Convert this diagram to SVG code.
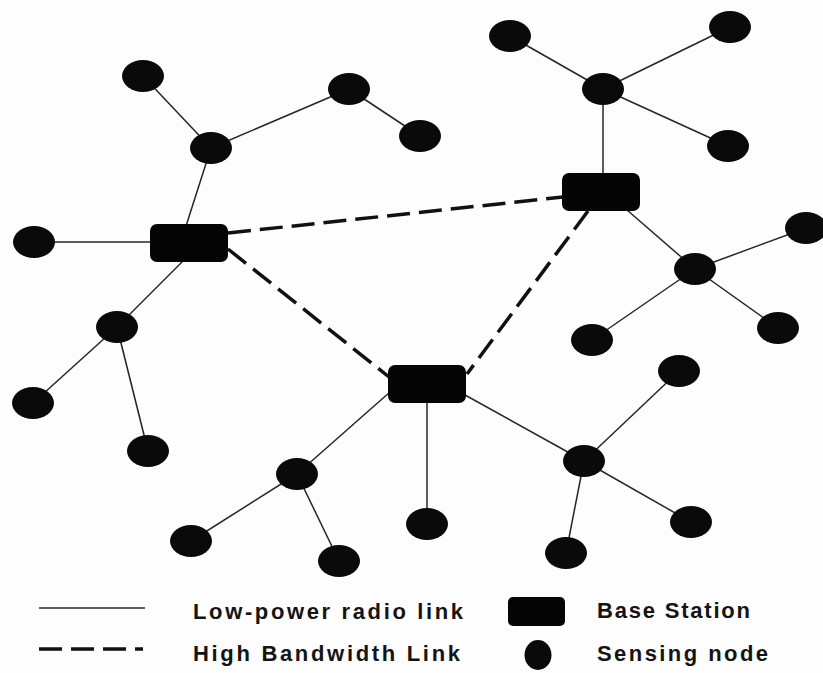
<svg xmlns="http://www.w3.org/2000/svg" width="823" height="673" viewBox="0 0 823 673">
  <style>
    .radio { stroke: #262626; stroke-width: 1.5; fill: none; }
    .backbone { stroke: #111; stroke-width: 3.5; fill: none; stroke-dasharray: 23 9; }
    .sensor { fill: #0a0a0a; }
    .base { fill: #050505; }
    .label { font-family: "Liberation Sans", Arial, sans-serif; font-weight: bold; font-size: 22px; fill: #141414; }
  </style>
  <defs>
    <ellipse id="sn" rx="21" ry="16"/>
    <rect id="bs" x="-39" y="-19" width="78" height="38" rx="7"/>
  </defs>
  <rect width="823" height="673" fill="#fdfdfd"/>

  <!-- links -->
  <g id="connectors">
    <!-- base station 1 tree -->
    <line class="radio" x1="34" y1="242" x2="150" y2="242"/>
    <line class="radio" x1="186" y1="226" x2="211" y2="148"/>
    <line class="radio" x1="211" y1="148" x2="143" y2="76"/>
    <line class="radio" x1="211" y1="148" x2="349" y2="89"/>
    <line class="radio" x1="349" y1="89" x2="420" y2="136"/>
    <line class="radio" x1="183" y1="261" x2="117" y2="327"/>
    <line class="radio" x1="117" y1="327" x2="33" y2="403"/>
    <line class="radio" x1="117" y1="327" x2="148" y2="451"/>
    <!-- base station 2 tree -->
    <line class="radio" x1="603" y1="175" x2="603" y2="89"/>
    <line class="radio" x1="603" y1="89" x2="510" y2="36"/>
    <line class="radio" x1="603" y1="89" x2="730" y2="27"/>
    <line class="radio" x1="603" y1="89" x2="728" y2="146"/>
    <line class="radio" x1="627" y1="210" x2="695" y2="269"/>
    <line class="radio" x1="695" y1="269" x2="806" y2="228"/>
    <line class="radio" x1="695" y1="269" x2="592" y2="340"/>
    <line class="radio" x1="695" y1="269" x2="778" y2="328"/>
    <!-- base station 3 tree -->
    <line class="radio" x1="390" y1="392" x2="297" y2="474"/>
    <line class="radio" x1="297" y1="474" x2="191" y2="541"/>
    <line class="radio" x1="297" y1="474" x2="339" y2="561"/>
    <line class="radio" x1="427" y1="401" x2="427" y2="524"/>
    <line class="radio" x1="465" y1="395" x2="584" y2="461"/>
    <line class="radio" x1="584" y1="461" x2="679" y2="371"/>
    <line class="radio" x1="584" y1="461" x2="691" y2="522"/>
    <line class="radio" x1="584" y1="461" x2="566" y2="553"/>
    <!-- high bandwidth backbone -->
    <line class="backbone" x1="228" y1="233" x2="563" y2="197"/>
    <line class="backbone" x1="228" y1="249" x2="389" y2="377"/>
    <line class="backbone" x1="588" y1="211" x2="467" y2="374"/>
  </g>

  <!-- base stations -->
  <g id="bs1"><use href="#bs" class="base" x="189" y="243"/></g>
  <g id="bs2"><use href="#bs" class="base" x="601" y="192"/></g>
  <g id="bs3"><use href="#bs" class="base" x="427" y="384"/></g>

  <!-- sensing nodes -->
  <g id="n1"><use href="#sn" class="sensor" x="143" y="76"/></g>
  <g id="n2"><use href="#sn" class="sensor" x="211" y="148"/></g>
  <g id="n3"><use href="#sn" class="sensor" x="349" y="89"/></g>
  <g id="n4"><use href="#sn" class="sensor" x="420" y="136"/></g>
  <g id="n5"><use href="#sn" class="sensor" x="34" y="242"/></g>
  <g id="n6"><use href="#sn" class="sensor" x="117" y="327"/></g>
  <g id="n7"><use href="#sn" class="sensor" x="33" y="403"/></g>
  <g id="n8"><use href="#sn" class="sensor" x="148" y="451"/></g>
  <g id="n9"><use href="#sn" class="sensor" x="510" y="36"/></g>
  <g id="n10"><use href="#sn" class="sensor" x="730" y="27"/></g>
  <g id="n11"><use href="#sn" class="sensor" x="603" y="89"/></g>
  <g id="n12"><use href="#sn" class="sensor" x="728" y="146"/></g>
  <g id="n13"><use href="#sn" class="sensor" x="695" y="269"/></g>
  <g id="n14"><use href="#sn" class="sensor" x="806" y="228"/></g>
  <g id="n15"><use href="#sn" class="sensor" x="592" y="340"/></g>
  <g id="n16"><use href="#sn" class="sensor" x="778" y="328"/></g>
  <g id="n17"><use href="#sn" class="sensor" x="297" y="474"/></g>
  <g id="n18"><use href="#sn" class="sensor" x="191" y="541"/></g>
  <g id="n19"><use href="#sn" class="sensor" x="339" y="561"/></g>
  <g id="n20"><use href="#sn" class="sensor" x="427" y="524"/></g>
  <g id="n21"><use href="#sn" class="sensor" x="584" y="461"/></g>
  <g id="n22"><use href="#sn" class="sensor" x="679" y="371"/></g>
  <g id="n23"><use href="#sn" class="sensor" x="691" y="522"/></g>
  <g id="n24"><use href="#sn" class="sensor" x="566" y="553"/></g>

  <!-- legend -->
  <g id="legend">
    <line class="radio" x1="39" y1="608" x2="145" y2="608"/>
    <line class="backbone" x1="39" y1="649" x2="143" y2="649" stroke-width="3" stroke-dasharray="23 9"/>
    <text class="label" x="193" y="619" textLength="270" lengthAdjust="spacing">Low-power radio link</text>
    <text class="label" x="193" y="661" textLength="267" lengthAdjust="spacing">High Bandwidth Link</text>
    <rect class="base" x="508" y="597" width="57" height="29" rx="5"/>
    <ellipse class="sensor" cx="538" cy="655" rx="13.5" ry="15"/>
    <text class="label" x="597" y="618" textLength="153" lengthAdjust="spacing">Base Station</text>
    <text class="label" x="597" y="661" textLength="171" lengthAdjust="spacing">Sensing node</text>
  </g>
</svg>
